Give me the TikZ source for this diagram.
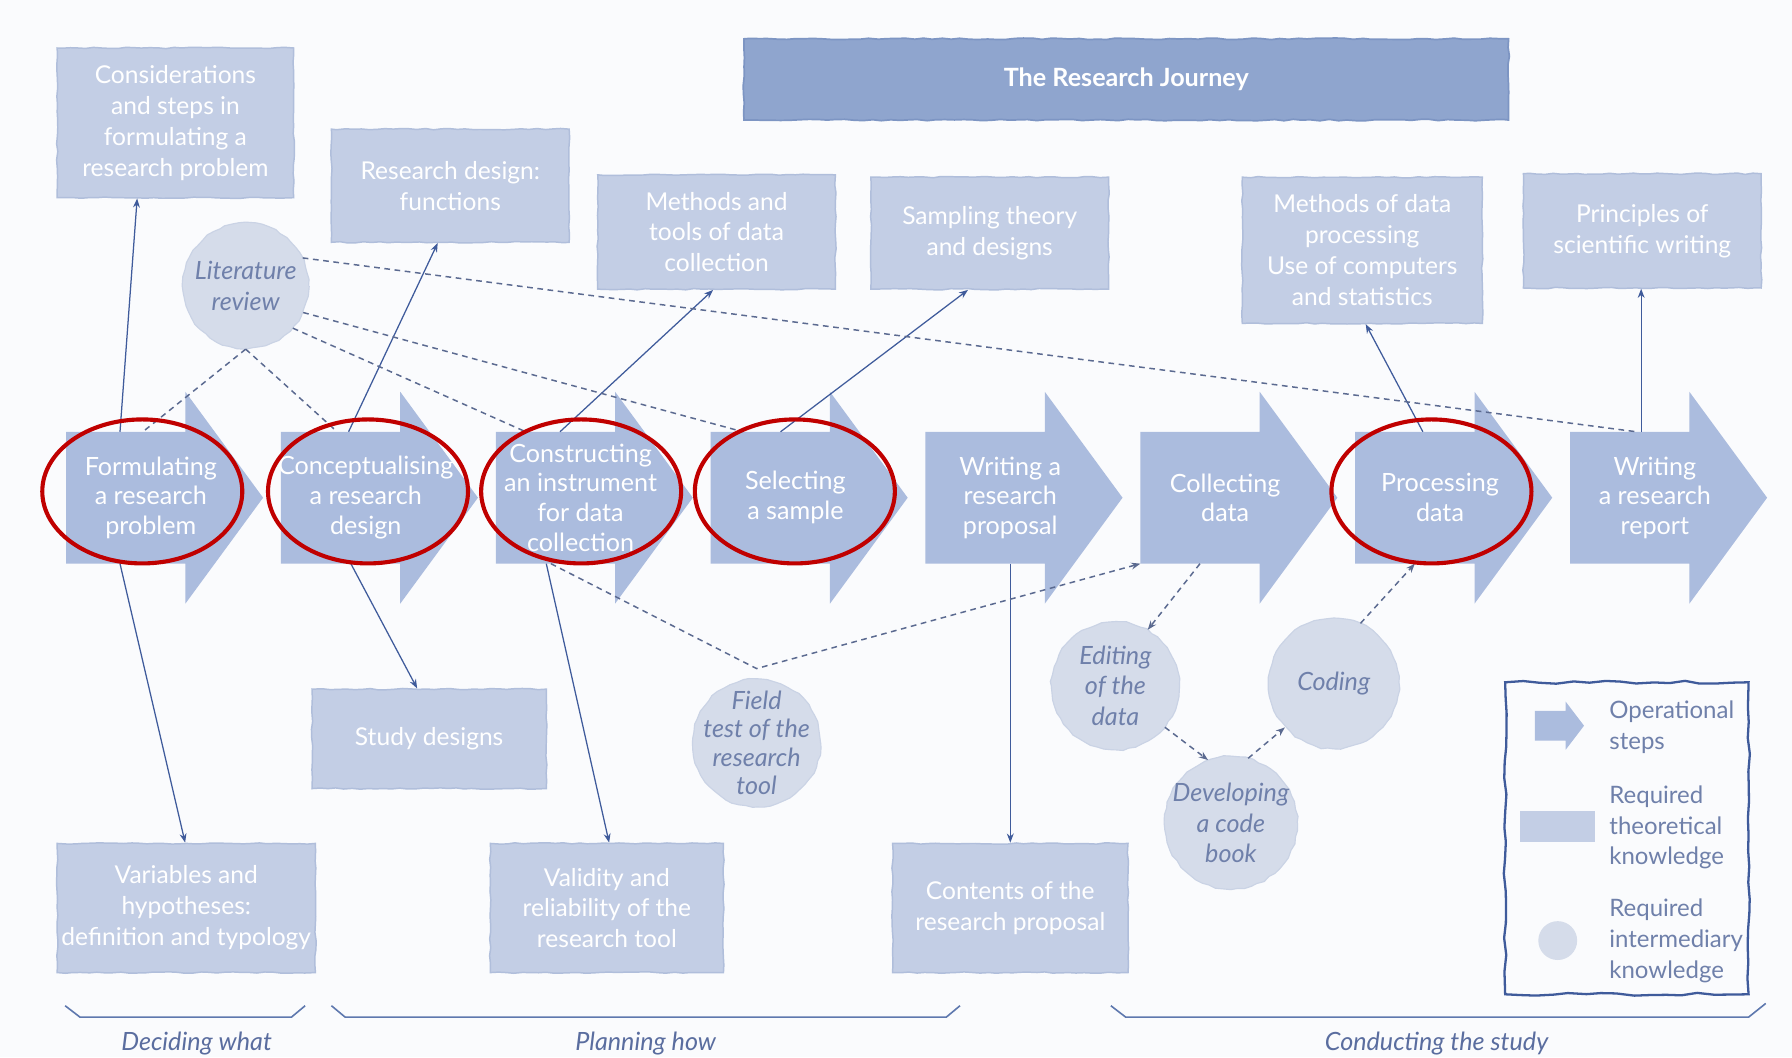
\documentclass[tikz,border=0pt]{standalone}
\usepackage{fontspec}
\setmainfont{Lato}
\usetikzlibrary{arrows.meta,decorations.pathmorphing}
\definecolor{bgc}{HTML}{FAFBFD}
\definecolor{kfill}{HTML}{C3CEE5}
\definecolor{kedge}{HTML}{B0BEDB}
\definecolor{sfill}{HTML}{ABBCDE}
\definecolor{tfill}{HTML}{8FA5CE}
\definecolor{tedge}{HTML}{7D95C3}
\definecolor{cfill}{HTML}{D5DCEA}
\definecolor{cedge}{HTML}{CAD3E5}
\definecolor{ctext}{HTML}{6F80AA}
\definecolor{linkc}{HTML}{3F5B9B}
\definecolor{dlinkc}{HTML}{5B6A90}
\definecolor{ringc}{HTML}{C00000}
\definecolor{bracec}{HTML}{5E78AE}
\definecolor{phasec}{HTML}{5A6D9F}

\begin{document}
\pgfmathsetseed{11}
\begin{tikzpicture}[x=1pt,y=-1pt,
  know/.style={rectangle, fill=kfill, draw=kedge, line width=1.3pt, inner sep=0pt,
    text=white, align=center, font=\fontsize{21.5}{27}\selectfont,
    decorate, decoration={random steps, segment length=7pt, amplitude=0.6pt}},
  stepbody/.style={rectangle, minimum width=104pt, minimum height=115pt, inner sep=0pt},
  steptext/.style={text=white, align=center, font=\fontsize{22}{26}\selectfont, inner sep=0pt},
  inter/.style={circle, fill=cfill, draw=cedge, line width=1pt, inner sep=0pt, minimum size=#1,
    decorate, decoration={random steps, segment length=6pt, amplitude=0.8pt}},
  intertext/.style={text=ctext, align=center, font=\fontsize{22}{27}\selectfont\itshape, inner sep=0pt},
  solidlink/.style={draw=linkc, line width=1.1pt, -{Stealth[length=8pt,width=6pt]}},
  dashlink/.style={draw=dlinkc, line width=1.3pt, dash pattern=on 5pt off 4pt},
  dashtip/.style={-{Stealth[length=8pt,width=6pt]}},
  redring/.style={draw=ringc, line width=3.6pt},
  legtext/.style={text=ctext, align=left, anchor=west, font=\fontsize{21}{27}\selectfont, inner sep=0pt},
  phase/.style={text=phasec, font=\fontsize{22}{24}\selectfont\itshape, inner sep=0pt},
  bracket/.style={draw=bracec, line width=1.4pt},
]
% canvas
\fill[bgc] (0,0) rectangle (1568,925);
\useasboundingbox (0,0) rectangle (1568,925);

% title banner
\node[rectangle, fill=tfill, draw=tedge, line width=1.5pt, minimum width=669pt, minimum height=71pt,
  text=white, font=\fontsize{22}{24}\selectfont\bfseries,
  decorate, decoration={random steps, segment length=8pt, amplitude=0.7pt}] (title) at (985.5,69.5) {The Research Journey};

% theoretical knowledge boxes
\node[know, minimum width=207pt, minimum height=131pt] (kA) at (153.5,107.5) {Considerations\\and steps in\\formulating a\\research problem};
\node[know, minimum width=208pt, minimum height=99pt] (kB) at (394,162.5) {Research design:\\functions};
\node[know, minimum width=208pt, minimum height=100pt] (kC) at (627,203) {Methods and\\tools of data\\collection};
\node[know, minimum width=208pt, minimum height=98pt] (kD) at (866,204) {Sampling theory\\and designs};
\node[know, minimum width=210pt, minimum height=128pt] (kE) at (1192,219) {Methods of data\\processing\\Use of computers\\and statistics};
\node[know, minimum width=208pt, minimum height=100pt] (kF) at (1437,202) {Principles of\\scientific writing};
\node[know, minimum width=205pt, minimum height=87pt] (kG) at (375.5,646.5) {Study designs};
\node[know, minimum width=226pt, minimum height=113pt] (kH) at (163,794.5) {Variables and\\hypotheses:\\definition and typology};
\node[know, minimum width=204pt, minimum height=113pt] (kI) at (531,794.5) {Validity and\\reliability of the\\research tool};
\node[know, minimum width=206pt, minimum height=113pt] (kJ) at (884,794.5) {Contents of the\\research proposal};

% operational steps: body node plus arrow outline drawn as one shape
\foreach \i/\xo/\txt in {
  1/58/{Formulating\\a research\\problem},
  2/246/{Conceptualising\\a research\\design},
  3/434/{Constructing\\an instrument\\for data\\collection},
  4/622/{Selecting\\a sample},
  5/810/{Writing a\\research\\proposal},
  6/998/{Collecting\\data},
  7/1186/{Processing\\data},
  8/1374/{Writing\\a research\\report}} {
  \node[stepbody] (b\i) at (\xo+52,435.5) {};
  \fill[sfill] (b\i.north west) -- (b\i.north east) -- ([yshift=35pt]b\i.north east)
    -- ([xshift=68pt]b\i.east) -- ([yshift=-35pt]b\i.south east) -- (b\i.south east)
    -- (b\i.south west) -- cycle;
  \node[steptext] (s\i) at (\xo+74,435.5) {\txt};
}

% intermediary knowledge
\node[inter=110pt] (lit) at (215,250) {};
\node[intertext] (litT) at (lit) {Literature\\review};
\node[inter=112pt] (field) at (662,650) {};
\node[intertext, font=\fontsize{22}{25}\selectfont\itshape] (fieldT) at (field) {Field\\test of the\\research\\tool};
\node[inter=112pt] (edit) at (976,600) {};
\node[intertext] (editT) at (edit) {Editing\\of the\\data};
\node[inter=114pt] (coding) at (1167,598) {};
\node[intertext] (codingT) at (coding) {Coding};
\node[inter=116pt] (book) at (1077,720) {};
\node[intertext] (bookT) at (book) {Developing\\a code\\book};

% solid connectors: steps to required theory
\draw[solidlink] ([xshift=-5pt]b1.north) -- ([xshift=-33.5pt]kA.south);
\draw[solidlink] ([xshift=-5pt]b1.south) -- ([xshift=-1pt]kH.north);
\draw[solidlink] ([xshift=7pt]b2.north) -- ([xshift=-11pt]kB.south);
\draw[solidlink] ([xshift=9pt]b2.south) -- ([xshift=-10.5pt]kG.north);
\draw[solidlink] ([xshift=4pt]b3.north) -- ([xshift=-3pt]kC.south);
\draw[solidlink] ([xshift=-8pt]b3.south) -- ([xshift=2pt]kI.north);
\draw[solidlink] ([xshift=9pt]b4.north) -- ([xshift=-19pt]kD.south);
\draw[solidlink] ([xshift=22pt]b5.south) -- (kJ.north);
\draw[solidlink] ([xshift=7pt]b7.north) -- ([xshift=3pt]kE.south);
\draw[solidlink] ([xshift=10pt]b8.north) -- ([xshift=-1pt]kF.south);

% dashed connectors: intermediary knowledge
\draw[dashlink] (lit.26) -- ([xshift=6pt]b8.north);
\draw[dashlink] (lit.-25) -- ([xshift=-24pt]b4.north);
\draw[dashlink] (lit.-42) -- ([xshift=-26pt]b3.north);
\draw[dashlink] (lit.south) -- ([xshift=15pt]b1.north);
\draw[dashlink] (lit.south) -- ([xshift=-3pt]b2.north);
\coordinate (apex) at (662,585);
\draw[dashlink, dashtip] ([xshift=-4pt]b3.south) -- (apex) -- (b6.south west);
\draw[dashlink, dashtip] (b6.south) -- (edit.60);
\draw[dashlink, dashtip] (edit.-40) -- (book.110);
\draw[dashlink, dashtip] (book.75) -- (coding.-138);
\draw[dashlink, dashtip] (coding.66) -- (b7.south);

% highlighted steps
\draw[redring] (124.5,430) ellipse [x radius=87.5pt, y radius=63pt];
\draw[redring] (322,430) ellipse [x radius=87.5pt, y radius=63pt];
\draw[redring] (508.5,430) ellipse [x radius=87.5pt, y radius=63pt];
\draw[redring] (695.5,430) ellipse [x radius=87.5pt, y radius=63pt];
\draw[redring] (1252.5,430) ellipse [x radius=87.5pt, y radius=63pt];

% legend
\node[rectangle, draw=linkc, line width=2pt, minimum width=213pt, minimum height=273pt, inner sep=0pt,
  decorate, decoration={random steps, segment length=14pt, amplitude=1.3pt}] (legend) at (1423.5,733.5) {};
\fill[sfill] (1343,622) -- (1370,622) -- (1370,614) -- (1386,635) -- (1370,656) -- (1370,648) -- (1343,648) -- cycle;
\fill[kfill] (1330,710) rectangle (1396,737);
\fill[cfill] (1363,823) circle [radius=17pt];
\node[legtext] (legA) at (1408,636) {Operational\\steps};
\node[legtext] (legB) at (1408,724) {Required\\theoretical\\knowledge};
\node[legtext] (legC) at (1408,823) {Required\\intermediary\\knowledge};

% phases
\draw[bracket] (57,880) -- (70,890) -- (255,890) -- (267,880);
\draw[bracket] (290,880) -- (302,890) -- (828,890) -- (840,880);
\draw[bracket] (972,880) -- (985,890) -- (1530,890) -- (1545,878);
\node[phase] (ph1) at (172,913) {Deciding what};
\node[phase] (ph2) at (565,913) {Planning how};
\node[phase] (ph3) at (1257,913) {Conducting the study};
\end{tikzpicture}
\end{document}
